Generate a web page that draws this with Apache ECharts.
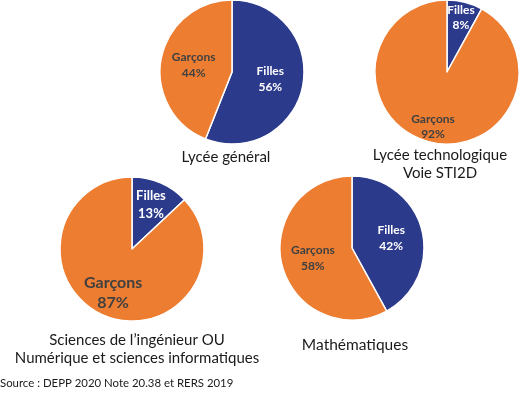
<!DOCTYPE html>
<html><head><meta charset="utf-8">
<script src="https://cdn.jsdelivr.net/npm/echarts@6/dist/echarts.min.js"></script>
<style>html,body{margin:0;padding:0;background:#fff}#c{width:520px;height:399px}</style>
</head><body><div id="c"></div>
<script>
const categories = ['Filles', 'Garçons'];
const pieNames = ['Lycée général', 'Lycée technologique\nVoie STI2D', 'Sciences de l\u2019ingénieur OU\nNumérique et sciences informatiques', 'Mathématiques'];
const filles = [56, 8, 13, 42];
const garcons = [44, 92, 87, 58];
const sourceText = 'Source : DEPP 2020 Note 20.38 et RERS 2019';

const FONT = 'Lato';
const BLUE = '#2C3A8C';
const ORANGE = '#ED7D31';
const R = 72;
const layout = [
  {c: [232, 72], f: 0.5, fs: [12, 12], lh: [16, 16]},
  {c: [447, 72], f: 0.74, fs: [12, 12], lh: [15, 15]},
  {c: [132, 249], f: 0.62, fs: [13, 16], lh: [18, 20]},
  {c: [352, 248], f: 0.52, fs: [12, 12], lh: [16, 16]}
];
const titlePos = [
  {left: 226, top: 148, fs: 15},
  {left: 440, top: 146, fs: 15},
  {left: 137, top: 331, fs: 15},
  {left: 355, top: 336, fs: 15.5}
];

const series = [];
pieNames.forEach((n, i) => {
  const L = layout[i];
  const vals = [filles[i], garcons[i]];
  series.push({
    type: 'pie', center: L.c, radius: [0, R], startAngle: 90, clockwise: true,
    silent: true, animation: false, label: {show: false}, labelLine: {show: false},
    itemStyle: {borderColor: '#fff', borderWidth: 1.5},
    data: categories.map((cat, k) => ({name: cat, value: vals[k], itemStyle: {color: k === 0 ? BLUE : ORANGE}}))
  });
  const r0 = Math.max(0, 2 * L.f * R - R);
  const r1 = 2 * L.f * R - r0;
  series.push({
    type: 'pie', center: L.c, radius: [r0, r1], startAngle: 90, clockwise: true,
    silent: true, animation: false, labelLine: {show: false},
    itemStyle: {color: 'rgba(0,0,0,0)', borderWidth: 0},
    label: {show: true, position: 'inside', fontFamily: FONT, fontWeight: 'bold'},
    data: categories.map((cat, k) => ({
      name: cat, value: vals[k],
      label: {color: k === 0 ? '#ffffff' : '#404040', fontSize: L.fs[k], lineHeight: L.lh[k],
        formatter: p => p.name + '\n' + p.value + '%'}
    }))
  });
});

const titles = pieNames.map((n, i) => ({
  text: n, left: titlePos[i].left, top: titlePos[i].top, textAlign: 'center', padding: 0,
  textStyle: {fontFamily: FONT, fontWeight: 'normal', fontSize: titlePos[i].fs, color: '#1a1a1a', lineHeight: 18}
}));
titles.push({text: sourceText, left: 0, top: 376, padding: 0,
  textStyle: {fontFamily: FONT, fontWeight: 'normal', fontSize: 11.4, color: '#1a1a1a', lineHeight: 14}});

const chart = echarts.init(document.getElementById('c'));
chart.setOption({animation: false, title: titles, series: series});
</script></body></html>
